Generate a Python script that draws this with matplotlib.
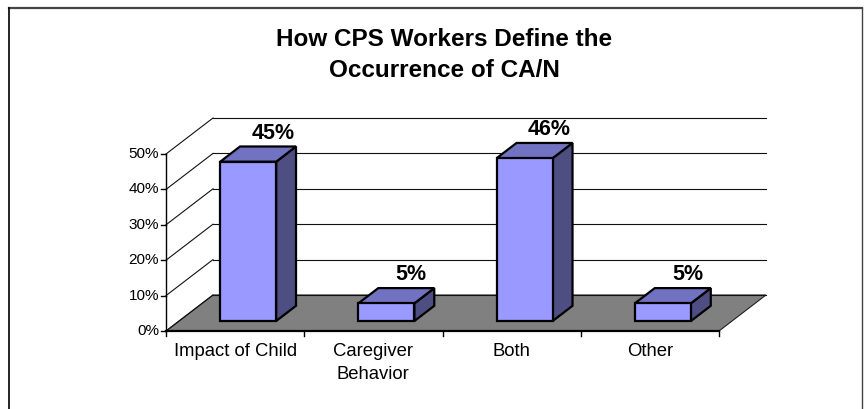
import matplotlib
matplotlib.use("Agg")
import matplotlib.pyplot as plt
from matplotlib.patches import Polygon
from matplotlib.lines import Line2D

plt.rcParams['font.family'] = ['Liberation Sans', 'DejaVu Sans']

# ---- data ----
title_lines = ["How CPS Workers Define the", "Occurrence of CA/N"]
categories = ["Impact of Child", "Caregiver\nBehavior", "Both", "Other"]
values = [45, 5, 46, 5]
value_labels = ["45%", "5%", "46%", "5%"]
y_ticks = [0, 10, 20, 30, 40, 50]
y_tick_labels = ["0%", "10%", "20%", "30%", "40%", "50%"]

# ---- geometry / style ----
W_PX, H_PX = 867, 409
DPI = 100
PX_X = 138.25          # pixels per category unit
PX_Y = 3.54            # pixels per percent
X0_PX, Y0_PX = 166, 409 - 331   # position of origin (from bottom-left)
DX = 47 / PX_X         # depth offset (category units)
DY = 36 / PX_Y         # depth offset (percent)
D0, D1 = 0.277, 0.70   # bar depth range
BAR_W = 0.405

FRONT = "#9999FF"
TOP = "#7272C2"
SIDE = "#4E4E82"
FLOOR = "#808080"

fig = plt.figure(figsize=(W_PX / DPI, H_PX / DPI), dpi=DPI)
ax = fig.add_axes([0, 0, 1, 1])
ax.set_xlim(-X0_PX / PX_X, (W_PX - X0_PX) / PX_X)
ax.set_ylim(-Y0_PX / PX_Y, (H_PX - Y0_PX) / PX_Y)
ax.axis("off")

n = len(categories)

# floor
ax.add_patch(Polygon([(0, 0), (n, 0), (n + DX, DY), (DX, DY)], closed=True,
                     facecolor=FLOOR, edgecolor="#202020", lw=0.8, zorder=1))

# back wall gridlines and side wall diagonals
for t in y_ticks:
    ax.plot([DX, n + DX], [t + DY, t + DY], color="#111111", lw=0.8, zorder=2)
    ax.plot([0, DX], [t, t + DY], color="#111111", lw=0.8, zorder=2)

# axes lines and ticks
tick_x = 5 / PX_X
tick_y = 5 / PX_Y
ax.plot([0, 0], [0, max(y_ticks)], color="black", lw=1.0, zorder=3)
ax.plot([0, n], [0, 0], color="black", lw=1.6, zorder=3)
for t, lab in zip(y_ticks, y_tick_labels):
    ax.plot([-tick_x, 0], [t, t], color="black", lw=1.0, zorder=3)
    ax.annotate(lab, xy=(0, t), xytext=(-7, 0), textcoords="offset pixels",
                ha="right", va="center", fontsize=11, color="black")
for i in range(n + 1):
    ax.plot([i, i], [0, -tick_y], color="black", lw=1.0, zorder=3)

# bars
for i, (v, lab) in enumerate(zip(values, value_labels)):
    c = i + 0.5 + DX * D0
    xl, xr = c - BAR_W / 2, c + BAR_W / 2
    yb = DY * D0
    yt = v + DY * D0
    ddx = DX * (D1 - D0)
    ddy = DY * (D1 - D0)
    ax.add_patch(Polygon([(xr, yb), (xr + ddx, yb + ddy), (xr + ddx, yt + ddy), (xr, yt)],
                         closed=True, facecolor=SIDE, edgecolor="black", lw=1.6,
                         joinstyle="miter", zorder=4))
    ax.add_patch(Polygon([(xl, yt), (xr, yt), (xr + ddx, yt + ddy), (xl + ddx, yt + ddy)],
                         closed=True, facecolor=TOP, edgecolor="black", lw=1.6,
                         joinstyle="miter", zorder=4))
    ax.add_patch(Polygon([(xl, yb), (xr, yb), (xr, yt), (xl, yt)],
                         closed=True, facecolor=FRONT, edgecolor="black", lw=1.6,
                         joinstyle="miter", zorder=5))
    ax.annotate(lab, xy=(c + ddx / 2, yt + ddy), xytext=(15, 8),
                textcoords="offset pixels", ha="center", va="baseline",
                fontsize=15.5, fontweight="bold", color="black", zorder=6)

# category labels
for i, cat in enumerate(categories):
    ax.annotate(cat, xy=(i + 0.5, 0), xytext=(0, -12), textcoords="offset pixels",
                ha="center", va="top", fontsize=13.3, color="black",
                linespacing=1.45)

# title
fig.text(444 / W_PX, 1 - 46 / H_PX, title_lines[0], ha="center", va="baseline",
         fontsize=17.5, fontweight="bold")
fig.text(444 / W_PX, 1 - 76.7 / H_PX, title_lines[1], ha="center", va="baseline",
         fontsize=17.5, fontweight="bold")

# outer frame
def fx(p):
    return p / W_PX

def fy(p):
    return 1 - p / H_PX

fig.add_artist(Line2D([fx(9), fx(862)], [fy(7.5), fy(7.5)], color="#444444", lw=1.6,
                      transform=fig.transFigure))
fig.add_artist(Line2D([fx(9), fx(9)], [fy(7.5), fy(409)], color="black", lw=1.2,
                      transform=fig.transFigure))
fig.add_artist(Line2D([fx(862), fx(862)], [fy(7.5), fy(409)], color="#444444", lw=1.0,
                      transform=fig.transFigure))

fig.savefig("out.png", dpi=DPI)
